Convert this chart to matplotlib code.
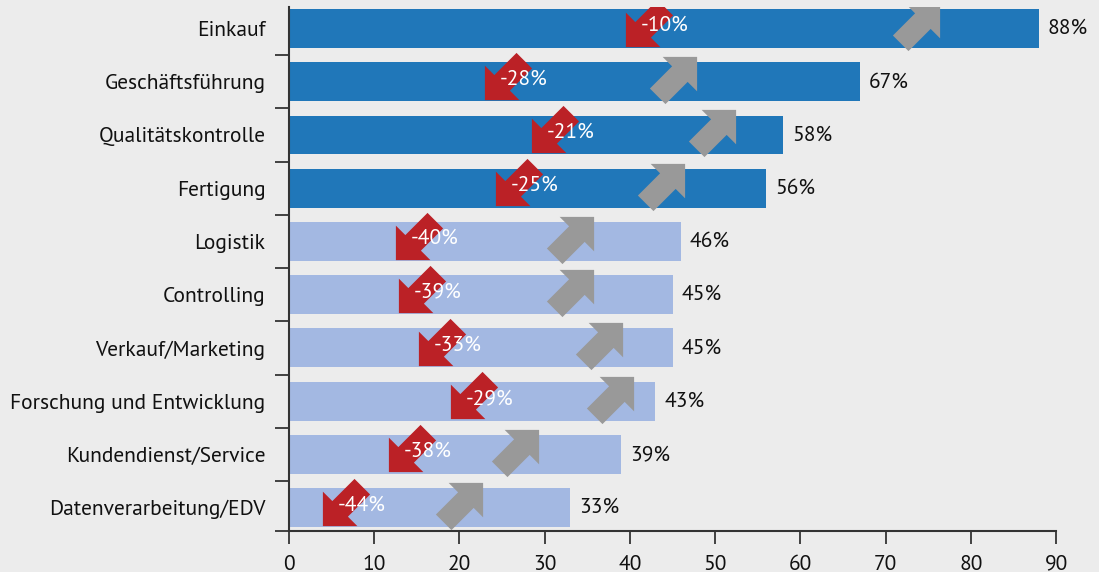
import matplotlib.pyplot as plt
import numpy as np
from matplotlib.path import Path

plt.rcParams['font.family'] = ['PT Sans', 'DejaVu Sans']

categories = ["Einkauf", "Geschäftsführung", "Qualitätskontrolle", "Fertigung", "Logistik",
              "Controlling", "Verkauf/Marketing", "Forschung und Entwicklung",
              "Kundendienst/Service", "Datenverarbeitung/EDV"]
values = [88, 67, 58, 56, 46, 45, 45, 43, 39, 33]
changes = [-10, -28, -21, -25, -40, -39, -33, -29, -38, -44]
# where the arrows sit along the value axis
drop_x = [42.2, 25.7, 31.2, 27.0, 15.3, 15.6, 17.95, 21.7, 14.4, 6.7]
rise_x = [73.6, 45.0, 49.6, 43.7, 33.0, 33.0, 36.4, 37.7, 26.5, 20.0]
highlight = 4  # first four rows are dark

BG = "#ececec"
DARK = "#2077b9"
LIGHT = "#a3b8e2"
RED = "#bb2126"
GREY = "#999999"

# arrow pointing up-right, square corner head
arrow = np.array([(1, 1), (0.27, 1), (0.47, 0.80), (0.0, 0.33),
                  (0.33, 0.0), (0.80, 0.47), (1, 0.27), (1, 1)]) - 0.5
up_arrow = Path(arrow, closed=True)
down_arrow = Path(-arrow, closed=True)

fig = plt.figure(figsize=(10.99, 5.72), dpi=100, facecolor=BG)
ax = fig.add_axes([289 / 1099, 41 / 572, 767 / 1099, 524 / 572])
ax.set_facecolor(BG)

y = np.arange(len(categories))
colors = [DARK if i < highlight else LIGHT for i in y]
ax.barh(y, values, height=0.73, color=colors, zorder=2)

ax.plot(rise_x, y - 0.03, linestyle="none", marker=up_arrow, markersize=34,
        color=GREY, markeredgewidth=0, zorder=3)
ax.plot(drop_x, y - 0.11, linestyle="none", marker=down_arrow, markersize=34,
        color=RED, markeredgewidth=0, zorder=3)

for i, (v, c, dx) in enumerate(zip(values, changes, drop_x)):
    ax.annotate(f"{v}%", (v, i), xytext=(6.5, 0), textcoords="offset points",
                ha="left", va="center", fontsize=15.5, color="#111111")
    ax.annotate(f"{c}%", (dx, i), xytext=(-6, 2), textcoords="offset points",
                ha="left", va="center", fontsize=15.5, color="white", zorder=4)

ax.set_xlim(0, 90)
ax.set_ylim(9.44, -0.404)
ax.set_xticks(np.arange(0, 91, 10))
ax.set_yticks(y)
ax.set_yticklabels(categories)
ax.set_yticks(list(np.arange(0.5, 9, 1)) + [9.44], minor=True)
ax.tick_params(axis="y", which="major", length=0, pad=17, labelsize=15.5, labelcolor="#111111")
ax.tick_params(axis="y", which="minor", length=10, width=1.3, color="#333333")
ax.tick_params(axis="x", length=9, width=1.3, color="#333333", pad=8,
               labelsize=15.5, labelcolor="#111111")

for s in ["top", "right"]:
    ax.spines[s].set_visible(False)
for s in ["left", "bottom"]:
    ax.spines[s].set_linewidth(1.5)
    ax.spines[s].set_color("#333333")

fig.savefig("out.png", dpi=100, facecolor=BG)
